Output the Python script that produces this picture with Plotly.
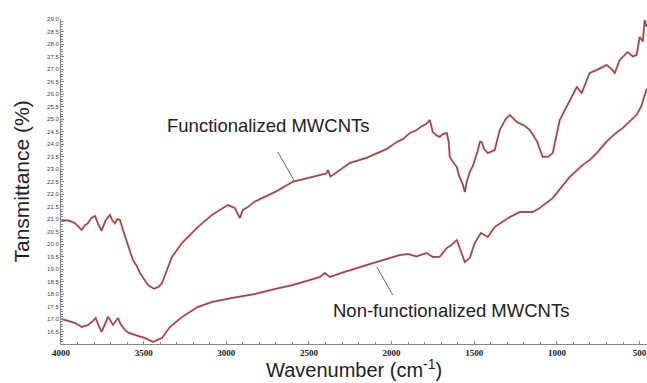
import plotly.graph_objects as go

# Functionalized MWCNTs (upper spectrum)
func_wn = [3996, 3960, 3930, 3915, 3895, 3875, 3855, 3837, 3815, 3794, 3775, 3754, 3730, 3715,
           3704, 3690, 3674, 3660, 3643, 3625, 3595, 3565, 3540, 3522, 3474, 3438, 3410, 3389,
           3329, 3268, 3172, 3087, 2990, 2948, 2930, 2918, 2900, 2869, 2827, 2700, 2597, 2500,
           2416, 2395, 2385, 2370, 2355, 2253, 2150, 2089, 2030, 1969, 1930, 1890, 1850, 1820,
           1790, 1769, 1760, 1751, 1730, 1709, 1690, 1666, 1655, 1648, 1630, 1606, 1590, 1570,
           1557, 1545, 1527, 1510, 1497, 1480, 1465, 1455, 1440, 1418, 1395, 1376, 1346, 1310,
           1285, 1243, 1200, 1164, 1120, 1086, 1050, 1025, 983, 923, 880, 850, 802, 759, 699,
           670, 650, 620, 572, 540, 518, 499, 480, 469, 457]
func_t = [20.92, 20.95, 20.88, 20.83, 20.70, 20.56, 20.75, 20.83, 21.05, 21.12, 20.80, 20.53, 20.95, 21.10,
          21.16, 20.95, 20.83, 21.00, 20.96, 20.56, 19.96, 19.36, 19.10, 18.84, 18.36, 18.21, 18.28, 18.44,
          19.48, 20.04, 20.68, 21.16, 21.56, 21.44, 21.20, 21.04, 21.36, 21.48, 21.70, 22.10, 22.49, 22.65,
          22.76, 22.82, 22.96, 22.70, 22.76, 23.24, 23.45, 23.64, 23.80, 24.08, 24.20, 24.44, 24.55, 24.70,
          24.80, 24.96, 24.75, 24.48, 24.35, 24.28, 24.40, 24.44, 24.10, 23.48, 23.30, 23.08, 22.70, 22.40,
          22.08, 22.50, 22.88, 23.10, 23.36, 23.70, 24.10, 24.08, 23.80, 23.64, 23.70, 23.76, 24.56, 25.00,
          25.16, 24.88, 24.75, 24.56, 24.10, 23.48, 23.50, 23.64, 24.96, 25.76, 26.28, 26.04, 26.84, 26.96, 27.16,
          27.00, 26.84, 27.36, 27.68, 27.50, 27.56, 28.28, 28.10, 28.96, 28.68]

# Non-functionalized MWCNTs (lower spectrum)
nonf_wn = [3996, 3950, 3915, 3875, 3837, 3810, 3790, 3770, 3754, 3715, 3700, 3685, 3655, 3640,
           3613, 3590, 3552, 3492, 3444, 3389, 3341, 3268, 3172, 3087, 2966, 2827, 2706, 2597,
           2434, 2404, 2373, 2300, 2150, 2050, 1950, 1900, 1850, 1788, 1751, 1709, 1666, 1640,
           1606, 1580, 1557, 1527, 1497, 1460, 1418, 1376, 1330, 1285, 1225, 1146, 1104, 1025,
           923, 844, 802, 759, 699, 650, 602, 560, 518, 490, 457]
nonf_t = [17.00, 16.92, 16.84, 16.68, 16.76, 16.90, 17.04, 16.70, 16.49, 17.09, 16.95, 16.76, 17.04, 16.80,
          16.56, 16.45, 16.36, 16.24, 16.08, 16.24, 16.68, 17.08, 17.48, 17.68, 17.84, 18.00, 18.20, 18.36,
          18.68, 18.84, 18.68, 18.85, 19.16, 19.35, 19.56, 19.60, 19.50, 19.64, 19.48, 19.49, 19.84, 19.95,
          20.16, 19.70, 19.28, 19.44, 20.04, 20.44, 20.28, 20.68, 20.90, 21.08, 21.28, 21.28, 21.44, 21.84,
          22.68, 23.16, 23.36, 23.64, 24.10, 24.40, 24.64, 24.90, 25.16, 25.50, 26.20]

x_ticks = [4000, 3500, 3000, 2500, 2000, 1500, 1000, 500]
y_ticks = [16.5 + 0.5 * i for i in range(26)]

labels = ["Functionalized MWCNTs", "Non-functionalized MWCNTs"]

fig = go.Figure()
for wn, t in [(func_wn, func_t), (nonf_wn, nonf_t)]:
    fig.add_trace(go.Scatter(x=wn, y=t, mode="lines",
                             line=dict(color="rgba(225,80,80,0.9)", width=2.0),
                             hoverinfo="skip", showlegend=False))
    fig.add_trace(go.Scatter(x=wn, y=t, mode="lines",
                             line=dict(color="#444444", width=0.7),
                             showlegend=False))

fig.update_layout(
    width=647, height=383,
    margin=dict(l=61, r=0, t=19, b=39),
    paper_bgcolor="white", plot_bgcolor="white",
    font=dict(family="Liberation Sans, Arial, sans-serif", color="#222"),
    xaxis=dict(range=[4000, 455], tickvals=x_ticks, ticktext=[f"<b>{v}</b>" for v in x_ticks],
               tickfont=dict(family="Liberation Serif, Times New Roman, serif", size=9, color="#222"),
               showgrid=False, zeroline=False, showline=True, linecolor="#888", linewidth=1,
               ticks="inside", ticklen=3, tickcolor="#888",
               minor=dict(dtick=100, ticks="inside", ticklen=2, tickcolor="#888")),
    yaxis=dict(range=[16.0, 29.0], tickvals=y_ticks, ticktext=[f"{v:.1f}" for v in y_ticks],
               tickfont=dict(size=6, color="#444"),
               showgrid=False, zeroline=False, showline=True, linecolor="#888", linewidth=1,
               ticks="inside", ticklen=3, tickcolor="#888",
               minor=dict(dtick=0.1, ticks="inside", ticklen=2, tickcolor="#888")),
)

fig.add_annotation(text="Wavenumber (cm<sup>-1</sup>)", xref="paper", yref="paper",
                   x=0.5, y=0, yshift=-39, xanchor="center", yanchor="bottom",
                   showarrow=False, font=dict(size=20, color="#222"))
fig.add_annotation(text="Tansmittance (%)", xref="paper", yref="paper",
                   x=0, y=0.5, xshift=-40, xanchor="center", yanchor="middle", textangle=-90,
                   showarrow=False, font=dict(size=21, color="#222"))

# labels with leader lines
fig.add_annotation(text=labels[0], x=2745, y=24.76, showarrow=False,
                   font=dict(size=18.5, color="#222"))
fig.add_shape(type="line", x0=2688, y0=23.68, x1=2585, y1=22.48,
              line=dict(color="#666", width=1))
fig.add_annotation(text=labels[1], x=1642, y=17.36, showarrow=False,
                   font=dict(size=18.5, color="#222"))
fig.add_shape(type="line", x0=2089, y0=19.08, x1=1993, y1=17.96,
              line=dict(color="#666", width=1))

fig.write_html("out.html", config={"displayModeBar": False},
               post_script="document.body.style.margin='0';")
